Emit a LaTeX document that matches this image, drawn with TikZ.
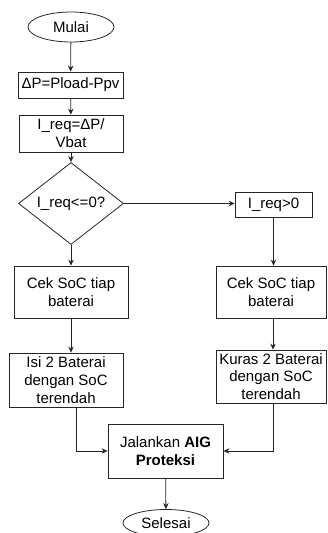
\documentclass[tikz,border=0pt]{standalone}
\usepackage{fontspec}
\setmainfont{Liberation Sans}
\usetikzlibrary{shapes.geometric,arrows.meta}
\begin{document}
\begin{tikzpicture}[x=1pt,y=-1pt,
  every node/.style={font=\fontsize{15}{17.8}\selectfont, align=center, text=black},
  proc/.style={draw=black!85, line width=0.8pt, rectangle, inner sep=1pt},
  term/.style={draw=black!85, line width=0.8pt, ellipse, inner sep=0pt},
  dec/.style={draw=black!85, line width=0.8pt, diamond, inner sep=0pt},
  arr/.style={draw=black!85, line width=0.8pt, -{Stealth[length=6pt,width=5.5pt]}}]
\useasboundingbox (0,0) rectangle (327,533);
\node[term, minimum width=86, minimum height=30] (mulai) at (71,27) {Mulai};
\node[proc, minimum width=105, minimum height=26] (dp) at (70.5,85) {ΔP=Pload-Ppv};
\node[proc, minimum width=104, minimum height=37] (ireq) at (71,133.5) {I\_req=ΔP/\\Vbat};
\node[dec, minimum width=105, minimum height=71] (d) at (71,203.5) {I\_req<=0?};
\node[proc, minimum width=77, minimum height=25] (pos) at (273.5,204.5) {I\_req>0};
\node[proc, minimum width=114, minimum height=52] (cekL) at (71,292) {Cek SoC tiap\\baterai};
\node[proc, minimum width=110, minimum height=52] (cekR) at (271,292) {Cek SoC tiap\\baterai};
\node[proc, minimum width=114, minimum height=54] (isi) at (66,380) {Isi 2 Baterai\\dengan SoC\\terendah};
\node[proc, minimum width=110, minimum height=53] (kuras) at (271,376.5) {Kuras 2 Baterai\\dengan SoC\\terendah};
\node[proc, minimum width=115, minimum height=54] (jal) at (165.5,451) {Jalankan \textbf{AIG}\\\textbf{Proteksi}};
\node[term, minimum width=86, minimum height=27] (sel) at (166,523) {Selesai};
\draw[arr] (mulai) -- (dp);
\draw[arr] (dp) -- (ireq);
\draw[arr] (ireq) -- (d);
\draw[arr] (d.east) -- (pos.west |- d.east);
\draw[arr] (d) -- (cekL);
\draw[arr] (pos.south) -- (pos.south |- cekR.north);
\draw[arr] (cekL.south -| 71,0) -- (71,0 |- isi.north);
\draw[arr] (273,0 |- cekR.south) -- (273,0 |- kuras.north);
\draw[arr] (76,0 |- isi.south) |- (jal.west);
\draw[arr] (273,0 |- kuras.south) |- (jal.east);
\draw[arr] (jal) -- (sel);
\end{tikzpicture}
\end{document}
